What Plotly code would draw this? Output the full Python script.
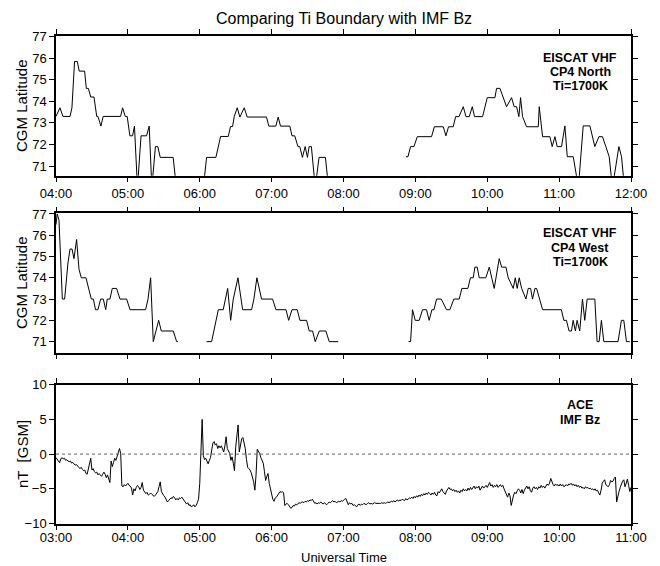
import pandas as pd
import plotly.graph_objects as go

# ---------------- data ----------------
# EISCAT VHF CP4 North: minutes after 04:00, latitude (70.0 = below plotted range, None = no data)
north_min = [0, 3.3, 5.8, 11.7, 13.3, 15.5, 17.8, 19.4, 23.9, 25.3, 27.0, 29.0, 31.7, 34.0, 35.0,
             37.5, 39.4, 53.9, 55.6, 57.8, 59.4, 61.7, 63.9, 65.5, 68.0, 71.0, 75.6, 77.8, 80.0,
             83.0, 85.0, 87.0, 97.8, 100.5,
             123.0, 125.7, 133.5, 137.4, 143.8, 145.7, 147.4, 148.8, 151.3, 153.5, 157.1, 159.6,
             175.7, 177.7, 183.5, 185.5, 187.4, 195.2, 197.0, 199.3, 202.0, 203.5, 205.7, 208.0,
             209.9, 211.3, 213.2, 216.4, 219.6, 224.9, 227.5, 228.0,
             292.1, 293.8, 296.0, 298.8, 301.6, 313.5, 315.8, 323.3, 325.5, 327.7, 331.6, 333.6,
             336.4, 340.0, 342.2, 345.0, 347.5, 349.4, 356.1, 360.0, 366.4, 367.8, 370.6, 376.1,
             380.3, 382.5, 384.5, 386.4, 387.8, 389.5, 392.8, 402.6, 403.4, 406.2, 412.3, 414.2,
             416.5, 418.4, 422.0, 424.8, 426.8, 431.8, 436.1, 440.1, 445.7, 449.8, 453.2, 456.2,
             459.0, 461.8, 464.5, 469.9, 472.1, 474.5, 480.0]
north_lat = [73.3, 73.7, 73.3, 73.3, 73.7, 75.85, 75.85, 75.4, 75.4, 74.6, 74.6, 74.2, 74.2, 73.3, 73.3,
             72.85, 73.3, 73.3, 73.7, 73.3, 73.3, 72.4, 72.4, 72.85, 70.0, 72.4, 72.4, 72.85, 70.0,
             71.9, 71.9, 71.4, 71.4, 70.0,
             70.0, 71.4, 71.4, 72.37, 72.37, 72.83, 72.83, 73.3, 73.7, 73.27, 73.7, 73.27,
             73.27, 72.85, 72.85, 73.27, 72.85, 72.85, 72.4, 72.4, 71.9, 71.9, 71.4, 71.9,
             71.4, 71.9, 71.9, 70.0, 71.4, 71.4, 70.0, None,
             71.43, 71.43, 71.9, 71.9, 72.36, 72.36, 72.82, 72.82, 72.4, 72.82, 72.82, 73.29,
             73.29, 73.75, 73.29, 73.29, 73.75, 73.29, 73.29, 74.17, 74.17, 74.6, 74.6, 73.75,
             74.17, 73.75, 73.75, 73.29, 74.17, 73.29, 72.82, 72.82, 73.75, 72.36, 72.36, 71.9,
             72.36, 71.9, 71.9, 72.86, 71.43, 71.43, 70.0, 72.86, 72.86, 71.9, 72.36, 72.36,
             71.9, 71.43, 70.0, 71.9, 71.43, 70.0, 70.0]

# EISCAT VHF CP4 West: minutes after 04:00, latitude
west_min = [0, 1.0, 2.5, 5.3, 7.2, 10.0, 11.7, 13.4, 15.0, 17.2, 19.2, 21.1, 25.0, 27.0, 29.5, 31.2,
            33.0, 35.0, 37.3, 39.5, 41.5, 42.8, 45.0, 47.0, 50.6, 53.4, 59.0, 61.8, 74.8, 76.8, 79.0,
            81.2, 83.5, 85.7, 87.9, 97.9, 100.7, 101.8, 103.0,
            125.7, 129.9, 135.5, 139.6, 143.3, 145.8, 148.0, 151.9, 155.8, 163.3, 165.2, 167.7,
            171.6, 180.8, 183.6, 192.0, 194.2, 197.0, 201.4, 203.6, 209.2, 211.4, 214.2, 216.4,
            219.8, 225.3, 228.1, 235.6, 236.0,
            294.3, 296.0, 297.6, 299.9, 303.2, 306.0, 309.3, 311.5, 313.8, 315.5, 317.7, 321.6,
            326.0, 328.8, 332.1, 336.6, 338.8, 343.8, 346.0, 348.3, 349.7, 351.6, 353.3, 358.8,
            361.7, 365.8, 370.0, 372.0, 375.6, 377.5, 381.7, 383.4, 385.0, 386.7, 388.7, 392.3,
            394.2, 396.2, 397.8, 399.8, 401.2, 406.2, 421.9, 423.9, 426.1, 428.3, 430.3, 431.7,
            433.6, 435.0, 437.2, 439.5, 441.4, 443.4, 449.8, 451.7, 453.4, 455.3, 457.3, 469.2,
            472.0, 474.0, 476.2, 479.0]
west_lat = [76.5, 77.0, 76.7, 73.0, 73.0, 74.7, 75.35, 75.35, 74.9, 75.8, 74.4, 74.0, 74.0, 73.5, 73.0, 73.0,
            72.5, 72.5, 73.0, 73.0, 72.5, 73.0, 73.0, 73.5, 73.5, 73.0, 73.0, 72.5, 72.5, 73.0, 74.0,
            71.0, 71.5, 72.0, 71.5, 71.5, 71.0, 71.0, None,
            71.0, 71.0, 72.5, 72.5, 73.5, 72.0, 73.0, 74.0, 72.5, 72.5, 73.0, 74.0,
            73.0, 73.0, 72.5, 72.5, 72.0, 72.5, 72.5, 72.0, 72.0, 71.5, 71.5, 71.0,
            71.5, 71.5, 71.0, 71.0, None,
            71.0, 71.0, 72.5, 72.0, 72.0, 72.5, 72.5, 72.0, 72.5, 72.5, 73.0, 73.0,
            72.5, 72.5, 73.0, 73.0, 73.5, 73.5, 74.0, 74.0, 74.5, 74.5, 74.0, 74.0,
            74.5, 73.5, 74.9, 74.5, 74.5, 74.0, 73.5, 74.0, 73.5, 74.0, 73.5, 73.0,
            73.5, 73.5, 73.0, 73.5, 73.5, 72.5, 72.5, 72.0, 72.0, 71.5, 71.5, 72.0,
            71.5, 72.0, 71.5, 73.0, 72.0, 73.0, 73.0, 71.0, 71.0, 72.0, 71.0, 71.0,
            72.0, 72.0, 71.0, 71.0]

# ACE IMF Bz (nT, GSM), one value per minute from 03:00 to 11:00
bz = [
    -0.5, -0.8, -0.9, -1.25, -0.7, -0.5, -0.7, -0.6, -0.9, -0.8, -1.0, -1.1, -1.0, -1.3, -1.2, -1.5,
    -1.6, -1.5, -1.8, -1.9, -2.1, -1.9, -2.2, -2.4, -2.3, -2.8, -2.9, -2.2, -1.2, -0.6, -2.3, -2.1,
    -2.5, -2.7, -2.6, -3.0, -2.8, -3.1, -3.2, -2.9, -2.6, -2.9, -3.4, -3.0, -3.5, -4.1, -1.0, -1.8,
    -1.2, -0.6, -0.9, -0.2, 0.2, 0.8, 0.1, -4.6, -4.7, -4.4, -4.6, -4.3, -4.2,
    -4.5, -4.6, -4.9, -5.9, -5.0, -5.3, -4.8, -4.5, -4.7, -5.1, -4.8, -4.1, -5.2, -5.4, -5.7, -5.5,
    -5.9, -5.8, -5.6, -5.8, -5.9, -6.1, -5.9, -5.6, -5.4, -4.7, -4.0, -5.4, -5.8, -6.0, -6.2, -6.5,
    -6.9, -6.7, -6.5, -6.3, -6.4, -6.1, -6.3, -6.6, -6.4, -6.6, -6.3, -6.4, -6.2, -6.5, -6.8, -6.9,
    -7.2, -7.0, -7.4, -7.3, -7.6, -7.5, -7.3, -7.6, -7.4, -7.0, -6.5, -4.2,
    -0.5, 5.0, -0.2, -0.8, -0.6, -1.0, -1.4, -0.9, -0.5, 0.6, 1.6, 1.8, 1.3, 1.5, 0.8, 1.2,
    0.9, 1.2, 0.6, 0.3, 1.2, 2.5, 0.8, 0.5, 0.1, -0.9, -0.4, -1.3, -2.4, 1.0, 2.7, 4.2,
    0.3, 1.6, 2.2, 2.4, 1.6, 0.8, -0.8, -1.9, -2.1, -2.3, -2.7, -3.3, -4.0, -5.2, -3.0, 0.7,
    0.4, 0.1, -0.5, -0.9, -1.3, -2.5, -3.8, -3.2, -2.8, -4.2, -5.0, -5.7,
    -6.5, -6.8, -6.3, -6.2, -5.9, -5.7, -5.4, -5.5, -5.4, -5.6, -7.4, -7.2, -7.1, -7.3, -7.6, -7.8,
    -7.7, -7.4, -7.5, -7.2, -7.3, -7.1, -7.0, -7.1, -6.9, -6.9, -7.0, -6.8, -6.9, -6.7, -6.8, -6.6,
    -6.7, -6.5, -6.8, -7.1, -7.0, -7.2, -7.0, -7.1, -6.9, -7.0, -7.2, -7.0, -7.1, -7.3, -7.1, -6.9,
    -7.0, -6.8, -6.7, -6.9, -6.8, -7.0, -6.9, -6.8, -6.9, -6.7, -6.8, -6.6,
    -6.5, -6.4, -6.9, -7.3, -7.0, -7.2, -7.1, -7.4, -7.3, -7.5, -7.6, -7.3, -7.2, -7.4, -7.2, -7.3,
    -7.1, -7.2, -7.3, -7.1, -7.0, -7.2, -7.1, -7.2, -7.1, -7.0, -7.1, -7.1, -7.2, -7.1, -7.1, -7.0,
    -7.1, -7.0, -7.1, -7.0, -6.9, -7.0, -6.9, -6.8, -6.9, -6.7, -6.9, -6.8, -6.6, -6.8, -6.6, -6.7,
    -6.5, -6.6, -6.7, -6.4, -6.6, -6.5, -6.3, -6.4, -6.2, -6.4, -6.1, -6.3,
    -6.0, -6.2, -5.9, -6.1, -5.8, -6.0, -5.7, -5.9, -5.6, -5.8, -5.5, -5.7, -5.9, -5.6, -5.8, -5.5,
    -5.9, -6.0, -5.4, -5.6, -5.3, -5.0, -5.4, -5.6, -5.8, -5.3, -5.0, -4.8, -5.1, -5.0, -5.3, -5.1,
    -5.4, -5.2, -5.5, -5.3, -5.6, -5.2, -5.4, -5.0, -5.3, -5.1, -5.3, -4.9, -5.2, -4.8, -5.1, -4.9,
    -4.6, -5.0, -4.7, -4.9, -4.6, -5.2, -4.8, -4.6, -4.9, -4.7, -4.5, -4.8,
    -4.5, -4.1, -4.6, -4.4, -4.8, -4.5, -4.7, -4.4, -4.8, -4.6, -4.4, -4.7, -4.5, -5.0, -5.4, -5.8,
    -6.2, -5.6, -6.0, -7.4, -6.3, -5.9, -5.5, -5.7, -5.3, -5.0, -5.2, -5.6, -5.1, -5.7, -5.2, -4.8,
    -4.6, -5.0, -4.7, -5.3, -5.5, -4.9, -4.7, -5.0, -4.8, -5.1, -4.7, -4.9, -4.5, -4.8, -4.6, -4.9,
    -4.6, -4.3, -4.5, -4.2, -3.5, -4.0, -4.4, -4.6, -4.3, -4.5, -4.4, -4.6,
    -4.3, -4.6, -4.4, -4.7, -4.5, -4.4, -4.6, -4.3, -4.4, -4.2, -4.5, -4.3, -4.6, -4.4, -4.7, -4.5,
    -4.8, -4.6, -4.9, -4.8, -5.0, -4.7, -4.9, -4.8, -5.0, -4.9, -5.1, -5.0, -5.2, -5.0, -5.3, -5.2,
    -5.6, -5.9, -5.2, -4.2, -3.9, -3.7, -4.4, -4.5, -4.7, -4.4, -3.8, -4.0, -3.9, -3.5, -3.3, -6.9,
    -6.0, -5.4, -4.8, -4.2, -3.9, -3.7, -4.7, -4.2, -3.6, -4.5, -5.4, -4.8,
]

lat_ticks = [71, 72, 73, 74, 75, 76, 77]
bz_ticks = [-10, -5, 0, 5, 10]

# ---------------- figure ----------------
day = pd.Timestamp("2000-01-01")
def to_time(start, mins):
    return [day + pd.Timedelta(hours=start) + pd.Timedelta(minutes=m) for m in mins]

t_north = to_time(4, north_min)
t_west = to_time(4, west_min)
t_bz = pd.date_range(day + pd.Timedelta(hours=3), periods=len(bz), freq="1min")

W, H = 660, 566
OFF = 8  # page body margin of the viewer
FONT = "Liberation Sans, Arial, Helvetica, sans-serif"

fig = go.Figure()
line = dict(color="black", width=1)
fig.add_trace(go.Scatter(x=t_north, y=north_lat, mode="lines", line=line, xaxis="x", yaxis="y",
                         connectgaps=False, showlegend=False, hoverinfo="skip"))
fig.add_trace(go.Scatter(x=t_west, y=west_lat, mode="lines", line=line, xaxis="x2", yaxis="y2",
                         connectgaps=False, showlegend=False, hoverinfo="skip"))
fig.add_trace(go.Scatter(x=t_bz, y=bz, mode="lines", line=line, xaxis="x3", yaxis="y3",
                         showlegend=False, hoverinfo="skip"))

def xd(px):
    return (px - OFF) / W
def yd(py):
    return 1 - (py - OFF) / H

common_x = dict(type="date", tickformat="%H:%M", dtick=3600000, ticks="outside", ticklen=5,
                tickwidth=1, tickcolor="black", mirror="ticks", showline=True, linecolor="black",
                linewidth=1.5, showgrid=False, zeroline=False, automargin=False,
                tickfont=dict(family=FONT, size=13, color="black"))
common_y = dict(ticks="outside", ticklen=5, tickwidth=1, tickcolor="black", mirror="ticks",
                showline=True, linecolor="black", linewidth=1.5, showgrid=False, zeroline=False,
                automargin=False, tickfont=dict(family=FONT, size=13, color="black"))

xdom = [xd(56), xd(631)]
r48 = [day + pd.Timedelta(hours=4), day + pd.Timedelta(hours=12)]
r311 = [day + pd.Timedelta(hours=3), day + pd.Timedelta(hours=11)]

fig.update_layout(
    width=W, height=H,
    margin=dict(l=0, r=0, t=0, b=0, autoexpand=False),
    paper_bgcolor="white", plot_bgcolor="white",
    font=dict(family=FONT, color="black"),
    xaxis=dict(common_x, domain=xdom, anchor="y", range=r48),
    yaxis=dict(common_y, domain=[yd(175.7), yd(36)], anchor="x", range=[70.55, 77.03],
               tickvals=lat_ticks),
    xaxis2=dict(common_x, domain=xdom, anchor="y2", range=r48, showticklabels=False),
    yaxis2=dict(common_y, domain=[yd(352.7), yd(213.3)], anchor="x2", range=[70.48, 77.03],
                tickvals=lat_ticks),
    xaxis3=dict(common_x, domain=xdom, anchor="y3", range=r311, ticklabelstandoff=-4),
    yaxis3=dict(common_y, domain=[yd(523.5), yd(384.7)], anchor="x3", range=[-10, 10],
                tickvals=bz_ticks),
)

fig.add_shape(type="line", xref="x3 domain", yref="y3", x0=0, x1=1, y0=0, y1=0,
              line=dict(color="#666666", width=1, dash="dot"))

def ann(text, px, py, size=13, bold=False, angle=0):
    fig.add_annotation(text=f"<b>{text}</b>" if bold else text, xref="paper", yref="paper",
                       x=xd(px), y=yd(py), xanchor="center", yanchor="middle", showarrow=False,
                       textangle=angle, font=dict(family=FONT, size=size, color="black"))

ann("Comparing Ti Boundary with IMF Bz", 343.5, 18, size=16)
ann("CGM Latitude", 21, 106, size=15, angle=-90)
ann("CGM Latitude", 21, 283, size=15, angle=-90)
ann("nT  [GSM]", 22, 454, size=15, angle=-90)
ann("Universal Time", 344, 557, size=13)

for txt, py in [("EISCAT VHF", 58), ("CP4 North", 72), ("Ti=1700K", 86)]:
    ann(txt, 580, py, size=12.5, bold=True)
for txt, py in [("EISCAT VHF", 233.5), ("CP4 West", 247.5), ("Ti=1700K", 261.5)]:
    ann(txt, 580, py, size=12.5, bold=True)
for txt, py in [("ACE", 405), ("IMF Bz", 420)]:
    ann(txt, 580, py, size=12.5, bold=True)

fig.write_html("out.html")
